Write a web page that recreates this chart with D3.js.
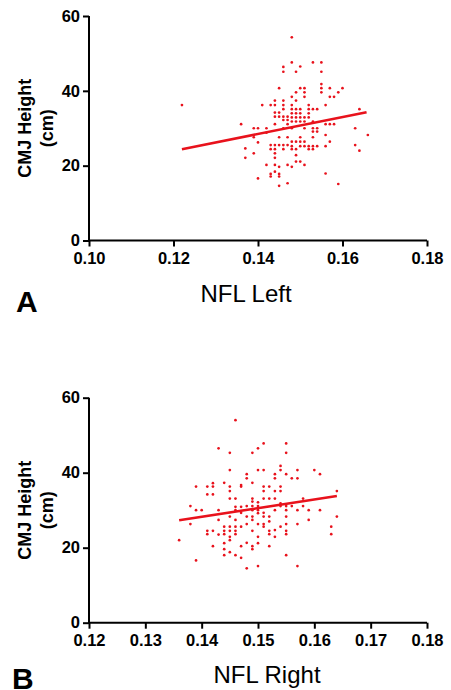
<!DOCTYPE html>
<html>
<head>
<meta charset="utf-8">
<script src="https://cdn.jsdelivr.net/npm/d3@7"></script>
<style>
  html, body { margin: 0; padding: 0; background: #fff; }
  svg { display: block; font-family: "Liberation Sans", Arial, sans-serif; }
</style>
</head>
<body>
<svg id="chart" width="451" height="690"></svg>
<script>
// NFL Left vs CMJ height: [nfl, cmj]
const leftPoints = [
  [0.122, 36.2],
  [0.136, 31.1],
  [0.137, 24.6], [0.137, 22.1],
  [0.139, 30.0], [0.139, 27.6], [0.139, 23.3],
  [0.140, 30.0], [0.140, 26.2], [0.140, 16.6],
  [0.141, 36.2],
  [0.142, 30.0], [0.142, 28.8], [0.142, 20.2],
  [0.143, 36.2], [0.143, 25.5], [0.143, 24.4], [0.143, 17.8], [0.143, 17.1],
  [0.144, 37.4], [0.144, 36.2], [0.144, 34.2], [0.144, 33.1], [0.144, 31.1], [0.144, 25.5],
  [0.144, 24.4], [0.144, 23.3], [0.144, 22.1], [0.144, 20.2], [0.144, 18.4],
  [0.145, 40.7], [0.145, 34.2], [0.145, 33.1], [0.145, 27.6], [0.145, 25.5], [0.145, 19.7],
  [0.145, 17.8], [0.145, 17.1], [0.145, 14.6],
  [0.146, 46.4], [0.146, 45.1], [0.146, 37.4], [0.146, 36.2], [0.146, 35.1], [0.146, 33.1],
  [0.146, 32.2], [0.146, 30.0], [0.146, 25.5], [0.146, 24.4],
  [0.147, 33.1], [0.147, 32.2], [0.147, 31.1], [0.147, 27.6], [0.147, 25.5], [0.147, 20.2], [0.147, 15.3],
  [0.148, 54.3], [0.148, 47.6], [0.148, 38.4], [0.148, 36.2], [0.148, 35.1], [0.148, 34.0],
  [0.148, 32.9], [0.148, 31.8], [0.148, 30.0], [0.148, 26.4], [0.148, 25.2], [0.148, 24.4], [0.148, 19.7],
  [0.149, 45.1], [0.149, 39.6], [0.149, 37.4], [0.149, 35.1], [0.149, 34.0], [0.149, 32.9],
  [0.149, 31.8], [0.149, 26.4], [0.149, 24.4], [0.149, 22.8], [0.149, 21.1],
  [0.150, 46.5], [0.150, 40.7], [0.150, 35.1], [0.150, 34.0], [0.150, 32.9], [0.150, 31.8],
  [0.150, 27.6], [0.150, 26.4], [0.150, 25.2], [0.150, 21.1],
  [0.151, 40.7], [0.151, 39.6], [0.151, 38.4], [0.151, 32.9], [0.151, 31.8], [0.151, 30.0],
  [0.151, 26.4], [0.151, 25.2], [0.151, 20.2],
  [0.152, 36.2], [0.152, 35.1], [0.152, 34.0], [0.152, 32.9], [0.152, 25.2], [0.152, 24.4],
  [0.153, 47.6], [0.153, 35.1], [0.153, 31.8], [0.153, 30.0], [0.153, 29.1], [0.153, 27.6],
  [0.153, 25.2], [0.153, 24.4],
  [0.154, 35.1], [0.154, 30.0], [0.154, 29.1], [0.154, 25.2],
  [0.155, 47.6], [0.155, 45.1], [0.155, 41.8], [0.155, 40.7], [0.155, 39.6],
  [0.156, 36.2], [0.156, 31.1], [0.156, 28.2], [0.156, 25.2], [0.156, 17.9],
  [0.157, 40.7], [0.157, 38.4], [0.157, 31.1], [0.157, 26.4],
  [0.158, 38.4], [0.158, 31.1],
  [0.159, 39.6], [0.159, 15.1],
  [0.160, 40.7],
  [0.163, 30.0], [0.163, 25.5],
  [0.164, 35.1], [0.164, 24.0],
  [0.166, 28.2]
];

// NFL Right vs CMJ height
const rightPoints = [
  [0.136, 22.0],
  [0.138, 31.1], [0.138, 26.3],
  [0.139, 36.3], [0.139, 30.0], [0.139, 16.6],
  [0.140, 30.0],
  [0.141, 36.3], [0.141, 34.2], [0.141, 24.5], [0.141, 23.6],
  [0.142, 37.2], [0.142, 36.3], [0.142, 34.2], [0.142, 24.5], [0.142, 20.4],
  [0.143, 46.5], [0.143, 30.0], [0.143, 27.4], [0.143, 23.5],
  [0.144, 37.3], [0.144, 25.6], [0.144, 24.5], [0.144, 23.6], [0.144, 21.2], [0.144, 19.6], [0.144, 18.0],
  [0.145, 45.3], [0.145, 40.7], [0.145, 36.3], [0.145, 35.1], [0.145, 33.1], [0.145, 28.3],
  [0.145, 25.6], [0.145, 24.5], [0.145, 22.9], [0.145, 22.0], [0.145, 18.8],
  [0.146, 54.0], [0.146, 33.1], [0.146, 30.9], [0.146, 30.0], [0.146, 27.4], [0.146, 25.6],
  [0.146, 24.5], [0.146, 23.6], [0.146, 18.0],
  [0.147, 36.7], [0.147, 36.3], [0.147, 30.9], [0.147, 29.3], [0.147, 25.6], [0.147, 20.4], [0.147, 17.3],
  [0.148, 39.6], [0.148, 38.5], [0.148, 31.1], [0.148, 28.3], [0.148, 26.3], [0.148, 21.3], [0.148, 14.5],
  [0.149, 45.3], [0.149, 37.3], [0.149, 33.1], [0.149, 32.3], [0.149, 31.1], [0.149, 30.0],
  [0.149, 28.3], [0.149, 27.4], [0.149, 24.5], [0.149, 20.4], [0.149, 19.6],
  [0.150, 46.5], [0.150, 40.7], [0.150, 32.1], [0.150, 31.1], [0.150, 30.0], [0.150, 29.2],
  [0.150, 26.3], [0.150, 22.9], [0.150, 21.2], [0.150, 15.1],
  [0.151, 47.8], [0.151, 40.7], [0.151, 36.3], [0.151, 35.1], [0.151, 33.1], [0.151, 29.3],
  [0.151, 28.3], [0.151, 26.3], [0.151, 25.6],
  [0.152, 36.3], [0.152, 33.1], [0.152, 28.3], [0.152, 27.0], [0.152, 24.5], [0.152, 23.6], [0.152, 20.4],
  [0.153, 39.6], [0.153, 38.5], [0.153, 35.1], [0.153, 33.1], [0.153, 30.0], [0.153, 24.7], [0.153, 22.9],
  [0.154, 41.8], [0.154, 40.7], [0.154, 36.3], [0.154, 35.1], [0.154, 31.8], [0.154, 31.1], [0.154, 25.6],
  [0.155, 47.8], [0.155, 45.3], [0.155, 39.6], [0.155, 31.1], [0.155, 30.0], [0.155, 28.3],
  [0.155, 26.3], [0.155, 24.5], [0.155, 23.6], [0.155, 18.0],
  [0.156, 38.5], [0.156, 31.1],
  [0.157, 40.7], [0.157, 38.5], [0.157, 30.0], [0.157, 26.3], [0.157, 15.1],
  [0.158, 33.1], [0.158, 31.1],
  [0.159, 30.0], [0.159, 27.4],
  [0.160, 40.7],
  [0.161, 39.6], [0.161, 30.0],
  [0.163, 25.6], [0.163, 23.6],
  [0.164, 35.1], [0.164, 28.3]
];

// regression lines
const leftFit  = [[0.122, 24.4], [0.1657, 34.3]];
const rightFit = [[0.136, 27.3], [0.164, 33.8]];

const yTicks = [0, 20, 40, 60];
const leftXTicks  = [0.10, 0.12, 0.14, 0.16, 0.18];
const rightXTicks = [0.12, 0.13, 0.14, 0.15, 0.16, 0.17, 0.18];

const RED = "#e8121c";
const svg = d3.select("#chart");

function drawPanel(opt) {
  const x = d3.scaleLinear().domain(opt.xDomain).range([89, 427]);
  const y = d3.scaleLinear().domain([0, 60]).range([opt.y0, opt.y60]);
  const g = svg.append("g");

  // y axis
  const ya = g.append("g")
    .attr("transform", "translate(89,0)")
    .call(d3.axisLeft(y).tickValues(yTicks).tickSize(6).tickPadding(3).tickSizeOuter(0));
  // x axis
  const xa = g.append("g")
    .attr("transform", `translate(0,${opt.y0})`)
    .call(d3.axisBottom(x).tickValues(opt.xTicks).tickSize(6).tickPadding(6).tickSizeOuter(0)
      .tickFormat(d3.format(".2f")));

  [ya, xa].forEach(a => {
    a.select(".domain").attr("stroke", "#000").attr("stroke-width", 2);
    a.selectAll(".tick line").attr("stroke", "#000").attr("stroke-width", 2);
    a.selectAll(".tick text")
      .attr("fill", "#000")
      .style("font-size", "16.5px")
      .style("font-weight", "bold")
      .style("font-family", "'Liberation Sans', Arial, sans-serif");
  });
  // stretch domains so corner closes neatly
  ya.select(".domain").attr("d", `M0,${opt.y0 + 1}V${opt.y60}`);
  xa.select(".domain").attr("d", `M89,0H${x(opt.xDomain[1])}`);

  // points
  g.append("g").selectAll("circle")
    .data(opt.points)
    .join("circle")
    .attr("cx", d => x(d[0]))
    .attr("cy", d => y(d[1]))
    .attr("r", 1.35)
    .attr("fill", RED);

  // fit line
  g.append("path")
    .datum(opt.fit)
    .attr("d", d3.line().x(d => x(d[0])).y(d => y(d[1])))
    .attr("stroke", RED)
    .attr("stroke-width", 2.6)
    .attr("fill", "none");

  // y title
  const yt = g.append("text")
    .attr("transform", `translate(31,${(opt.y0 + opt.y60) / 2}) rotate(-90)`)
    .attr("text-anchor", "middle")
    .style("font-size", "18px")
    .style("font-weight", "bold");
  yt.append("tspan").attr("x", 0).attr("y", 0).text("CMJ Height");
  yt.append("tspan").attr("x", 0).attr("y", 22).text("(cm)");

  // x title
  g.append("text")
    .attr("x", opt.titleX)
    .attr("y", opt.titleY)
    .attr("text-anchor", "middle")
    .style("font-size", "24px")
    .text(opt.title);

  // panel letter
  g.append("text")
    .attr("x", opt.letterX)
    .attr("y", opt.letterY)
    .style("font-size", "30px")
    .style("font-weight", "bold")
    .text(opt.letter);
}

drawPanel({
  points: leftPoints, fit: leftFit, xDomain: [0.10, 0.18], xTicks: leftXTicks,
  y0: 240.5, y60: 16, title: "NFL Left", titleX: 246, titleY: 302,
  letter: "A", letterX: 16, letterY: 312
});

drawPanel({
  points: rightPoints, fit: rightFit, xDomain: [0.12, 0.18], xTicks: rightXTicks,
  y0: 622.7, y60: 397.7, title: "NFL Right", titleX: 267, titleY: 683,
  letter: "B", letterX: 12, letterY: 689
});
</script>
</body>
</html>
